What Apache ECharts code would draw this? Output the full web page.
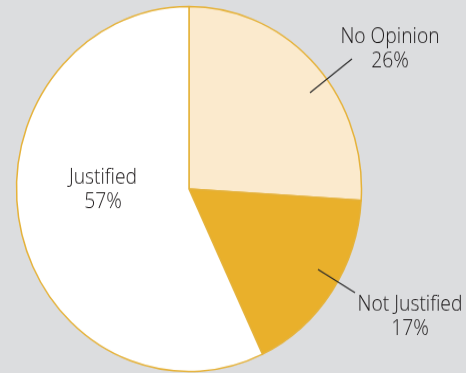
<!DOCTYPE html>
<html>
<head>
<meta charset="utf-8">
<script src="https://cdn.jsdelivr.net/npm/echarts@6/dist/echarts.min.js"></script>
<style>
  html, body { margin: 0; padding: 0; background: #dcdddf; overflow: hidden; }
  #wrap { width: 466px; height: 373px; overflow: hidden; }
  /* the pie is drawn slightly taller than wide */
  #chart { width: 466px; height: 373px; transform: scaleY(1.058); transform-origin: 0 189px; }
</style>
</head>
<body>
<div id="wrap"><div id="chart"></div></div>
<script>
// Opinion shares, clockwise from 12 o'clock
const categories = ['No Opinion', 'Not Justified', 'Justified'];
const shares = [26, 17, 57];
const sliceColors = ['#fbeacd', '#e9b02b', '#ffffff'];

const FONT = '"Open Sans", "Noto Sans", sans-serif';

// label anchors and leader lines (chart pixels, before vertical stretch)
const labelSpots = [
  { x: 390, y: 57, line: [[310, 98], [352, 66]] },
  { x: 410, y: 310, line: [[318, 265], [355, 287]] },
  { x: 103, y: 190.5, line: null }
];

const chart = echarts.init(document.getElementById('chart'), null, { renderer: 'canvas' });

chart.setOption({
  animation: false,
  backgroundColor: 'transparent',
  graphic: labelSpots.filter(s => s.line).map(s => ({
    type: 'line',
    z: 100,
    silent: true,
    shape: { x1: s.line[0][0], y1: s.line[0][1], x2: s.line[1][0], y2: s.line[1][1] },
    style: { stroke: '#2a2a2a', lineWidth: 1.2 }
  })),
  series: [{
    type: 'pie',
    center: [189, 189],
    radius: 172.5,
    startAngle: 90,
    clockwise: true,
    avoidLabelOverlap: false,
    itemStyle: { borderColor: '#e5b23a', borderWidth: 1.5 },
    label: {
      show: true,
      formatter: '{b}\n{c}%',
      fontFamily: FONT,
      fontWeight: 300,
      fontSize: 19.3,
      lineHeight: 23,
      color: '#1a1718',
      align: 'center'
    },
    labelLine: { show: false },
    labelLayout: function (params) {
      const spot = labelSpots[params.dataIndex];
      return { x: spot.x, y: spot.y, align: 'center', verticalAlign: 'middle' };
    },
    emphasis: { disabled: true },
    data: categories.map((name, i) => ({
      name: name,
      value: shares[i],
      itemStyle: { color: sliceColors[i] }
    }))
  }]
});
</script>
</body>
</html>
